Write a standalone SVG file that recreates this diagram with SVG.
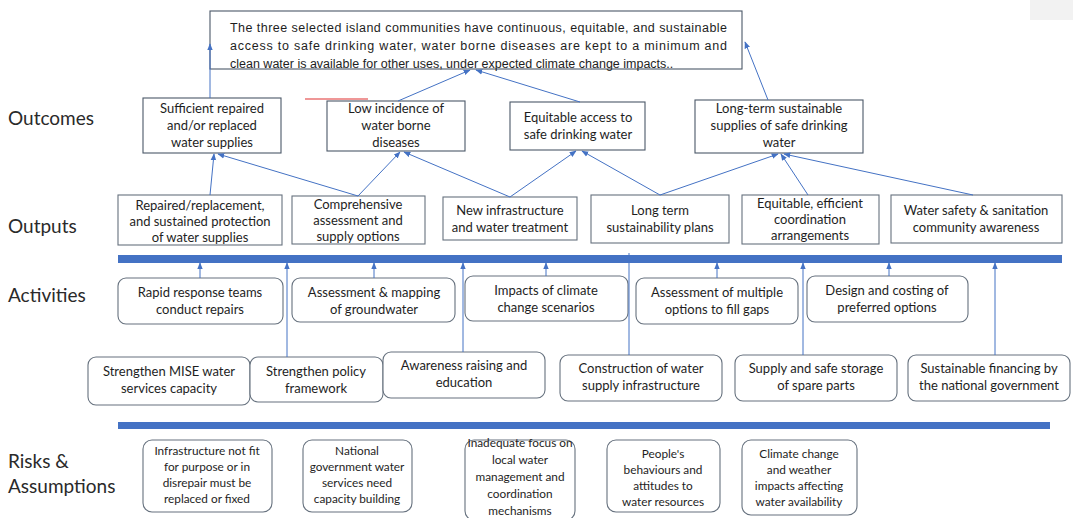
<svg xmlns="http://www.w3.org/2000/svg" width="1073" height="518" viewBox="0 0 1073 518">
<defs>
<marker id="ah" viewBox="0 0 10 10" refX="9" refY="5" markerWidth="7" markerHeight="7" markerUnits="userSpaceOnUse" orient="auto">
<path d="M0,1 L10,5 L0,9 z" fill="#4472c4"/>
</marker>
<style>
.bx{fill:#fff;stroke:#4b5868;stroke-width:1.1}
.rb{fill:#fff;stroke:#66717e;stroke-width:1.1}
.t{font-family:Lato,"Open Sans",sans-serif;font-size:13px;fill:#1e1e1e;text-anchor:middle}
.tr{font-family:Lato,"Open Sans",sans-serif;font-size:11.8px;fill:#1e1e1e;text-anchor:middle}
.top{font-family:"Liberation Sans",Arial,sans-serif;font-size:12.5px;fill:#1e1e1e}
.lab{font-family:Lato,"Open Sans",sans-serif;font-size:19px;fill:#2a2a2a}
.c{stroke:#4472c4;stroke-width:1;fill:none;marker-end:url(#ah)}
.cn{stroke:#4472c4;stroke-width:1;fill:none}
.bar{fill:#4472c4}
</style>
</defs>
<rect x="1030" y="0" width="43" height="20" fill="#f2f2f2"/>
<g id="labels">
<text class="lab" x="8" y="125">Outcomes</text>
<text class="lab" x="8" y="233">Outputs</text>
<text class="lab" x="8" y="302">Activities</text>
<text class="lab" x="8" y="468">Risks &amp;</text>
<text class="lab" x="8" y="493">Assumptions</text>
</g>
<g id="bars">
<rect class="bar" x="118" y="255" width="944" height="8"/>
<rect class="bar" x="118" y="422" width="932" height="7"/>
</g>
<g id="goal">
<rect class="bx" x="210" y="11" width="532" height="58"/>
<text class="top" x="230" y="32" textLength="497" lengthAdjust="spacing">The three selected island communities have continuous, equitable, and sustainable</text>
<text class="top" x="230" y="50" textLength="497" lengthAdjust="spacing">access to safe drinking water, water borne diseases are kept to a minimum  and</text>
<text class="top" x="230" y="68">clean water is available for other uses, under expected climate change impacts..</text>
</g>
<line x1="305" y1="99" x2="368" y2="99" stroke="#e03030" stroke-width="1.2"/>
<g id="oc1"><rect class="bx" x="143" y="98" width="138" height="55"/>
<text class="t" x="212" y="113">Sufficient repaired</text><text class="t" x="212" y="130">and/or replaced</text><text class="t" x="212" y="147">water supplies</text></g>
<g id="oc2"><rect class="bx" x="327" y="101" width="138" height="50"/>
<text class="t" x="396" y="113">Low incidence of</text><text class="t" x="396" y="130">water borne</text><text class="t" x="396" y="147">diseases</text></g>
<g id="oc3"><rect class="bx" x="510" y="102" width="135" height="48"/>
<text class="t" x="578" y="122">Equitable access to</text><text class="t" x="578" y="139">safe drinking water</text></g>
<g id="oc4"><rect class="bx" x="695" y="100" width="168" height="53"/>
<text class="t" x="779" y="113">Long-term sustainable</text><text class="t" x="779" y="130">supplies of safe drinking</text><text class="t" x="779" y="147">water</text></g>
<g id="op1"><rect class="rb" x="118" y="195" width="164" height="50"/>
<text class="t" x="200" y="210">Repaired/replacement,</text><text class="t" x="200" y="226">and sustained protection</text><text class="t" x="200" y="242">of water supplies</text></g>
<g id="op2"><rect class="rb" x="292" y="196" width="133" height="48"/>
<text class="t" x="358" y="209">Comprehensive</text><text class="t" x="358" y="225">assessment and</text><text class="t" x="358" y="241">supply options</text></g>
<g id="op3"><rect class="rb" x="443" y="197" width="134" height="43"/>
<text class="t" x="510" y="215">New infrastructure</text><text class="t" x="510" y="232">and water treatment</text></g>
<g id="op4"><rect class="rb" x="591" y="195" width="138" height="48"/>
<text class="t" x="660" y="215">Long term</text><text class="t" x="660" y="232">sustainability plans</text></g>
<g id="op5"><rect class="rb" x="742" y="195" width="137" height="49"/>
<text class="t" x="810" y="208">Equitable, efficient</text><text class="t" x="810" y="224">coordination</text><text class="t" x="810" y="240">arrangements</text></g>
<g id="op6"><rect class="rb" x="891" y="195" width="171" height="48"/>
<text class="t" x="976" y="215">Water safety &amp; sanitation</text><text class="t" x="976" y="232">community awareness</text></g>
<g id="a1"><rect class="rb" x="118" y="278" width="165" height="46" rx="8"/>
<text class="t" x="200" y="297">Rapid response teams</text><text class="t" x="200" y="314">conduct repairs</text></g>
<g id="a2"><rect class="rb" x="292" y="278" width="163" height="44" rx="8"/>
<text class="t" x="374" y="297">Assessment &amp; mapping</text><text class="t" x="374" y="314">of groundwater</text></g>
<g id="a3"><rect class="rb" x="465" y="276" width="163" height="45" rx="8"/>
<text class="t" x="546" y="295">Impacts of climate</text><text class="t" x="546" y="312">change scenarios</text></g>
<g id="a4"><rect class="rb" x="636" y="278" width="162" height="46" rx="8"/>
<text class="t" x="717" y="297">Assessment of multiple</text><text class="t" x="717" y="314">options to fill gaps</text></g>
<g id="a5"><rect class="rb" x="807" y="276" width="161" height="46" rx="8"/>
<text class="t" x="887" y="295">Design and costing of</text><text class="t" x="887" y="312">preferred options</text></g>
<g id="a6"><rect class="rb" x="88" y="357" width="162" height="48" rx="8"/>
<text class="t" x="169" y="376">Strengthen MISE water</text><text class="t" x="169" y="393">services capacity</text></g>
<g id="a7"><rect class="rb" x="250" y="357" width="133" height="45" rx="8"/>
<text class="t" x="316" y="376">Strengthen policy</text><text class="t" x="316" y="393">framework</text></g>
<g id="a8"><rect class="rb" x="383" y="352" width="162" height="46" rx="8"/>
<text class="t" x="464" y="370">Awareness raising and</text><text class="t" x="464" y="387">education</text></g>
<g id="a9"><rect class="rb" x="560" y="355" width="162" height="46" rx="8"/>
<text class="t" x="641" y="373">Construction of water</text><text class="t" x="641" y="390">supply infrastructure</text></g>
<g id="a10"><rect class="rb" x="735" y="355" width="162" height="46" rx="8"/>
<text class="t" x="816" y="373">Supply and safe storage</text><text class="t" x="816" y="390">of spare parts</text></g>
<g id="a11"><rect class="rb" x="908" y="355" width="162" height="46" rx="8"/>
<text class="t" x="989" y="373">Sustainable financing by</text><text class="t" x="989" y="390">the national government</text></g>
<g id="r1"><rect class="rb" x="143" y="440" width="129" height="72" rx="9"/>
<text class="tr" x="207" y="455">Infrastructure not fit</text><text class="tr" x="207" y="471">for purpose or in</text><text class="tr" x="207" y="487">disrepair must be</text><text class="tr" x="207" y="503">replaced or fixed</text></g>
<g id="r2"><rect class="rb" x="303" y="440" width="109" height="72" rx="9"/>
<text class="tr" x="357" y="455">National</text><text class="tr" x="357" y="471">government water</text><text class="tr" x="357" y="487">services need</text><text class="tr" x="357" y="503">capacity building</text></g>
<g id="r3"><rect class="rb" x="465" y="440" width="110" height="80" rx="9"/>
<text class="tr" x="520" y="447">Inadequate focus on</text><text class="tr" x="520" y="464">local water</text><text class="tr" x="520" y="481">management and</text><text class="tr" x="520" y="498">coordination</text><text class="tr" x="520" y="515">mechanisms</text></g>
<g id="r4"><rect class="rb" x="607" y="440" width="113" height="72" rx="9"/>
<text class="tr" x="663" y="458">People's</text><text class="tr" x="663" y="474">behaviours and</text><text class="tr" x="663" y="490">attitudes to</text><text class="tr" x="663" y="506">water resources</text></g>
<g id="r5"><rect class="rb" x="742" y="440" width="115" height="75" rx="9"/>
<text class="tr" x="799" y="458">Climate change</text><text class="tr" x="799" y="474">and weather</text><text class="tr" x="799" y="490">impacts affecting</text><text class="tr" x="799" y="506">water availability</text></g>
<g id="connectors">
<path class="c" d="M210,98 V44"/>
<path class="c" d="M398,101 L470,70"/>
<path class="c" d="M580,102 L476,70"/>
<path class="c" d="M768,100 L745,42"/>
<path class="c" d="M210,195 L214,154"/>
<path class="c" d="M358,196 L218,154"/>
<path class="c" d="M358,196 L400,152"/>
<path class="c" d="M510,197 L404,152"/>
<path class="c" d="M510,197 L576,151"/>
<path class="c" d="M660,195 L582,151"/>
<path class="c" d="M660,195 L778,154"/>
<path class="c" d="M808,195 L781,154"/>
<path class="c" d="M973,195 L784,154"/>
<path class="c" d="M200,278 V263"/>
<path class="c" d="M374,278 V263"/>
<path class="c" d="M546,276 V263"/>
<path class="c" d="M717,278 V263"/>
<path class="c" d="M889,276 V263"/>
<path class="c" d="M287,357 V263"/>
<path class="c" d="M463,352 V263"/>
<path class="cn" d="M629,253 V355"/>
<path class="c" d="M803,355 V263"/>
<path class="c" d="M995,355 V263"/>
</g>
</svg>
